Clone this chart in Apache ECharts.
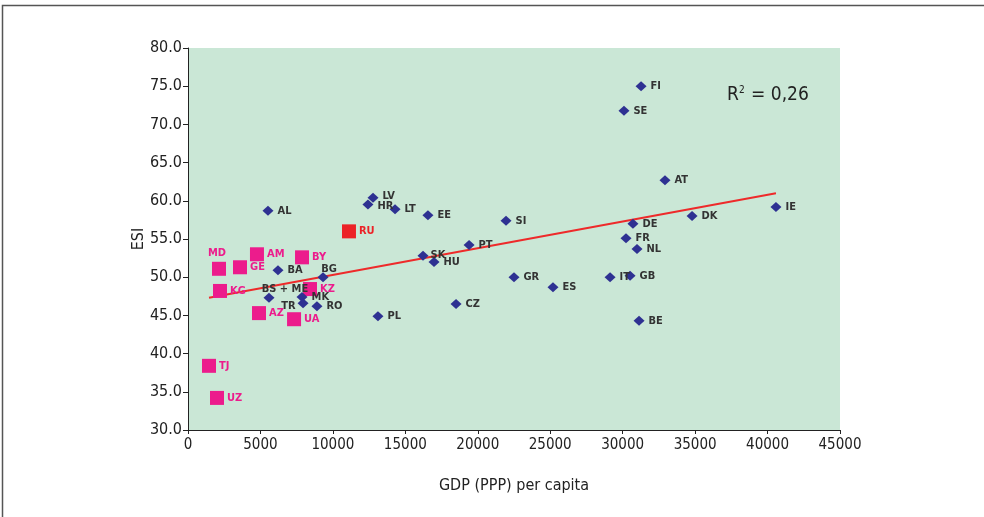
<!DOCTYPE html>
<html>
<head>
  <meta charset="utf-8" />
  <title>ESI vs GDP per capita</title>
  <script src="https://cdn.jsdelivr.net/npm/echarts@6/dist/echarts.min.js"></script>
  <style>
    html, body { margin: 0; padding: 0; background: #fff; }
    #main { width: 984px; height: 517px; }
  </style>
</head>
<body>
<div id="main"></div>
<script>
  // EU / candidate countries (blue diamonds)
  var euNames = ['AL', 'LV', 'HR', 'LT', 'EE', 'SI', 'PT', 'SK', 'HU', 'GR', 'ES', 'CZ', 'PL', 'BA', 'BG', 'BS + ME', 'MK', 'TR', 'RO',
                 'FI', 'SE', 'AT', 'DE', 'DK', 'IE', 'FR', 'NL', 'IT', 'GB', 'BE'];
  var euGdp = [5520, 12770, 12420, 14290, 16560, 21950, 19400, 16220, 16980, 22500, 25190, 18500, 13110, 6210, 9320, 5590, 7870, 7940, 8900,
               31270, 30090, 32920, 30710, 34790, 40580, 30230, 30990, 29130, 30510, 31130];
  var euEsi = [58.7, 60.4, 59.5, 58.9, 58.1, 57.4, 54.2, 52.8, 52.0, 50.0, 48.7, 46.5, 44.9, 50.9, 50.0, 47.3, 47.4, 46.6, 46.2,
               75.0, 71.8, 62.7, 57.0, 58.0, 59.2, 55.1, 53.7, 50.0, 50.2, 44.3];

  // CIS countries (pink squares)
  var cisNames = ['MD', 'AM', 'GE', 'BY', 'KG', 'KZ', 'AZ', 'UA', 'TJ', 'UZ'];
  var cisGdp = [2140, 4760, 3590, 7870, 2210, 8420, 4900, 7320, 1450, 2000];
  var cisEsi = [51.1, 53.0, 51.3, 52.6, 48.2, 48.45, 45.3, 44.5, 38.4, 34.2];

  // Russia (red square)
  var ruNames = ['RU'];
  var ruGdp = [11110];
  var ruEsi = [56.0];

  // linear trend end points
  var trendGdp = [1450, 40580];
  var trendEsi = [47.3, 61.0];

  var xTicks = [0, 45000, 5000];
  var yTicks = [30, 80, 5];

  var FONT = '"DejaVu Sans Condensed", "Liberation Sans Narrow", sans-serif';

  // where labels sit around a few crowded points
  var labelPos = {
    'MD': { position: 'top', offset: [-2, 0] },
    'BS + ME': { position: 'top', offset: [16, 6] },
    'TR': { position: 'left', offset: [2, 3] },
    'BG': { position: 'top', offset: [6, 6] },
    'LV': { position: 'right', offset: [0, -2] },
    'HR': { position: 'right', offset: [0, 2] },
    'SK': { position: 'right', offset: [-2, -1] },
    'MK': { position: 'right', offset: [0, 0] }
  };

  function makeData(names, xs, ys) {
    var out = [];
    for (var i = 0; i < names.length; i++) {
      var item = { name: names[i], value: [xs[i], ys[i]] };
      if (labelPos[names[i]]) {
        item.label = labelPos[names[i]];
      }
      out.push(item);
    }
    return out;
  }

  var myChart = echarts.init(document.getElementById('main'));

  var labelBase = {
    show: true,
    position: 'right',
    distance: 4,
    formatter: '{b}',
    fontFamily: FONT,
    fontSize: 11,
    fontWeight: 'bold'
  };

  var option = {
    animation: false,
    backgroundColor: '#ffffff',
    grid: {
      left: 188, right: 144, top: 48, bottom: 87,
      show: true, backgroundColor: '#cae7d6', borderWidth: 0
    },
    xAxis: {
      type: 'value',
      min: xTicks[0], max: xTicks[1], interval: xTicks[2],
      name: 'GDP (PPP) per capita',
      nameLocation: 'middle',
      nameGap: 48,
      nameTextStyle: { fontFamily: FONT, fontSize: 16, color: '#222' },
      axisLine: { show: true, lineStyle: { color: '#222', width: 1 } },
      axisTick: { show: true, length: 4, lineStyle: { color: '#222' } },
      axisLabel: {
        fontFamily: FONT, fontSize: 15, color: '#222', margin: 8,
        formatter: function (v) { return String(v); }
      },
      splitLine: { show: false }
    },
    yAxis: {
      type: 'value',
      min: yTicks[0], max: yTicks[1], interval: yTicks[2],
      name: 'ESI',
      nameLocation: 'middle',
      nameGap: 41,
      nameMoveOverlap: false,
      nameRotate: 90,
      nameTextStyle: { fontFamily: FONT, fontSize: 16, color: '#222' },
      axisLine: { show: true, lineStyle: { color: '#222', width: 1 } },
      axisTick: { show: true, length: 5, lineStyle: { color: '#222' } },
      axisLabel: {
        fontFamily: FONT, fontSize: 16, color: '#222', margin: 6,
        formatter: function (v) { return v.toFixed(1); }
      },
      splitLine: { show: false }
    },
    series: [
      {
        type: 'line',
        data: [[trendGdp[0], trendEsi[0]], [trendGdp[1], trendEsi[1]]],
        symbol: 'none',
        lineStyle: { color: '#ee2a2a', width: 2 },
        z: 1,
        silent: true
      },
      {
        type: 'scatter',
        data: makeData(euNames, euGdp, euEsi),
        symbol: 'diamond',
        symbolSize: [11, 10],
        itemStyle: { color: '#2e3192', opacity: 1 },
        label: Object.assign({}, labelBase, { color: '#333333' }),
        z: 3
      },
      {
        type: 'scatter',
        data: makeData(cisNames, cisGdp, cisEsi),
        symbol: 'rect',
        symbolSize: 14,
        itemStyle: { color: '#ec1c8c', opacity: 1 },
        label: Object.assign({}, labelBase, { color: '#ec1c8c', distance: 3 }),
        z: 2
      },
      {
        type: 'scatter',
        data: makeData(ruNames, ruGdp, ruEsi),
        symbol: 'rect',
        symbolSize: 14,
        itemStyle: { color: '#ec2227', opacity: 1 },
        label: Object.assign({}, labelBase, { color: '#ec2227', distance: 3 }),
        z: 2
      }
    ],
    graphic: [
      {
        type: 'rect',
        shape: { x: 2.5, y: 5.5, width: 990, height: 520 },
        style: { fill: 'none', stroke: '#555', lineWidth: 1.5 },
        silent: true
      },
      {
        type: 'text',
        left: 727, top: 85,
        style: {
          text: 'R{sup|2} = 0,26',
          fontFamily: FONT, fontSize: 19, fill: '#222',
          rich: { sup: { fontSize: 10, verticalAlign: 'top', padding: [0, 1, 10, 0], fontFamily: FONT, fill: '#222' } }
        }
      }
    ]
  };

  myChart.setOption(option);
</script>
</body>
</html>
